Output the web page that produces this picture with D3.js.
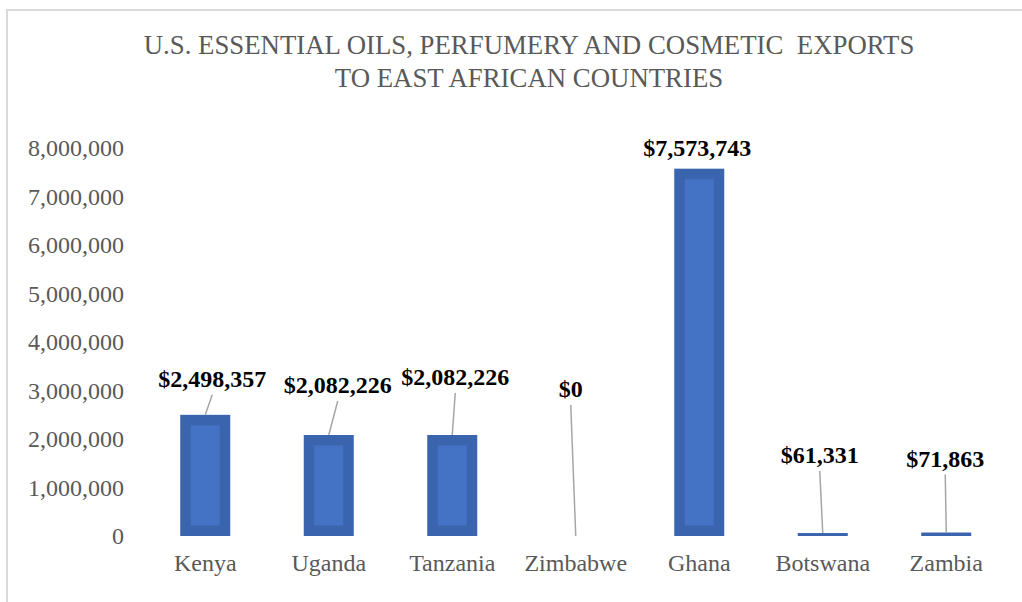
<!DOCTYPE html>
<html>
<head>
<meta charset="utf-8">
<script src="https://cdn.jsdelivr.net/npm/d3@7"></script>
<style>
  body { margin: 0; background: #fff; }
  svg { display: block; font-family: "Liberation Serif", "Times New Roman", serif; }
</style>
</head>
<body>
<svg id="chart"></svg>
<script>
const width = 1022;
const height = 602;

const titleLines = ['U.S. ESSENTIAL OILS, PERFUMERY AND COSMETIC\u00a0 EXPORTS', 'TO EAST AFRICAN COUNTRIES'];
const countries = ['Kenya', 'Uganda', 'Tanzania', 'Zimbabwe', 'Ghana', 'Botswana', 'Zambia'];
const exportsUsd = [2498357, 2082226, 2082226, 0, 7573743, 61331, 71863];
const yTicks = [0, 1000000, 2000000, 3000000, 4000000, 5000000, 6000000, 7000000, 8000000];

// where Excel's data labels were dragged to (relative to bar centre / bar top)
const labelDx = [7, 9, 3, -5, -2, -3, -1];
const labelDy = [-28, -42, -50, -139, -13, -70, -66];
const hasLeader = [true, true, true, true, false, true, true];

const svg = d3.select('#chart')
  .attr('width', width)
  .attr('height', height);

// chart area frame
svg.append('path')
  .attr('d', `M7,${height} V10 H${width}`)
  .attr('fill', 'none')
  .attr('stroke', '#d9d9d9')
  .attr('stroke-width', 2);

svg.append('text')
  .attr('x', 529)
  .attr('y', 54)
  .attr('text-anchor', 'middle')
  .attr('fill', '#595959')
  .style('font-size', '26.8px')
  .selectAll('tspan')
  .data(titleLines).enter()
  .append('tspan')
  .attr('x', 529)
  .attr('dy', (d, i) => i ? 33 : 0)
  .text(d => d);

const x = d3.scaleBand()
  .domain(countries)
  .range([143.5, 1008])
  .paddingInner(0.595)
  .paddingOuter(0.2975);

const y = d3.scaleLinear()
  .domain([0, 8000000])
  .range([536, 148]);

const yAxis = svg.append('g')
  .attr('transform', 'translate(135,0)')
  .call(d3.axisLeft(y).tickValues(yTicks).tickSize(0).tickPadding(11).tickFormat(d3.format(',')));
yAxis.select('.domain').remove();
yAxis.selectAll('text')
  .attr('fill', '#595959')
  .style('font-family', '"Liberation Serif", serif')
  .style('font-size', '24px');

const xAxis = svg.append('g')
  .attr('transform', 'translate(0,536)')
  .call(d3.axisBottom(x).tickSize(0).tickPadding(18));
xAxis.select('.domain').remove();
xAxis.selectAll('text')
  .attr('fill', '#595959')
  .style('font-family', '"Liberation Serif", serif')
  .style('font-size', '24px');

const data = countries.map((c, i) => ({ country: c, value: exportsUsd[i], i }));
const bw = x.bandwidth();
const border = 10.5;

const bars = svg.append('g').selectAll('g')
  .data(data.filter(d => d.value > 0)).enter()
  .append('g');

bars.append('rect')
  .attr('x', d => x(d.country))
  .attr('y', d => y(d.value))
  .attr('width', bw)
  .attr('height', d => y(0) - y(d.value))
  .attr('fill', '#3b64ae');

bars.filter(d => y(0) - y(d.value) > border * 2)
  .append('rect')
  .attr('x', d => x(d.country) + border)
  .attr('y', d => y(d.value) + border)
  .attr('width', bw - border * 2)
  .attr('height', d => y(0) - y(d.value) - border * 2)
  .attr('fill', '#4472c4');

const cx = d => x(d.country) + bw / 2;

svg.append('g').selectAll('line')
  .data(data.filter(d => hasLeader[d.i])).enter()
  .append('line')
  .attr('x1', d => cx(d) + labelDx[d.i])
  .attr('y1', d => y(d.value) + labelDy[d.i] + 8)
  .attr('x2', d => cx(d))
  .attr('y2', d => y(d.value))
  .attr('stroke', '#a6a6a6')
  .attr('stroke-width', 1.5);

svg.append('g').selectAll('text')
  .data(data).enter()
  .append('text')
  .attr('x', d => cx(d) + labelDx[d.i])
  .attr('y', d => y(d.value) + labelDy[d.i])
  .attr('text-anchor', 'middle')
  .attr('fill', '#000')
  .style('font-size', '24px')
  .style('font-weight', 'bold')
  .text(d => '$' + d3.format(',')(d.value));
</script>
</body>
</html>
